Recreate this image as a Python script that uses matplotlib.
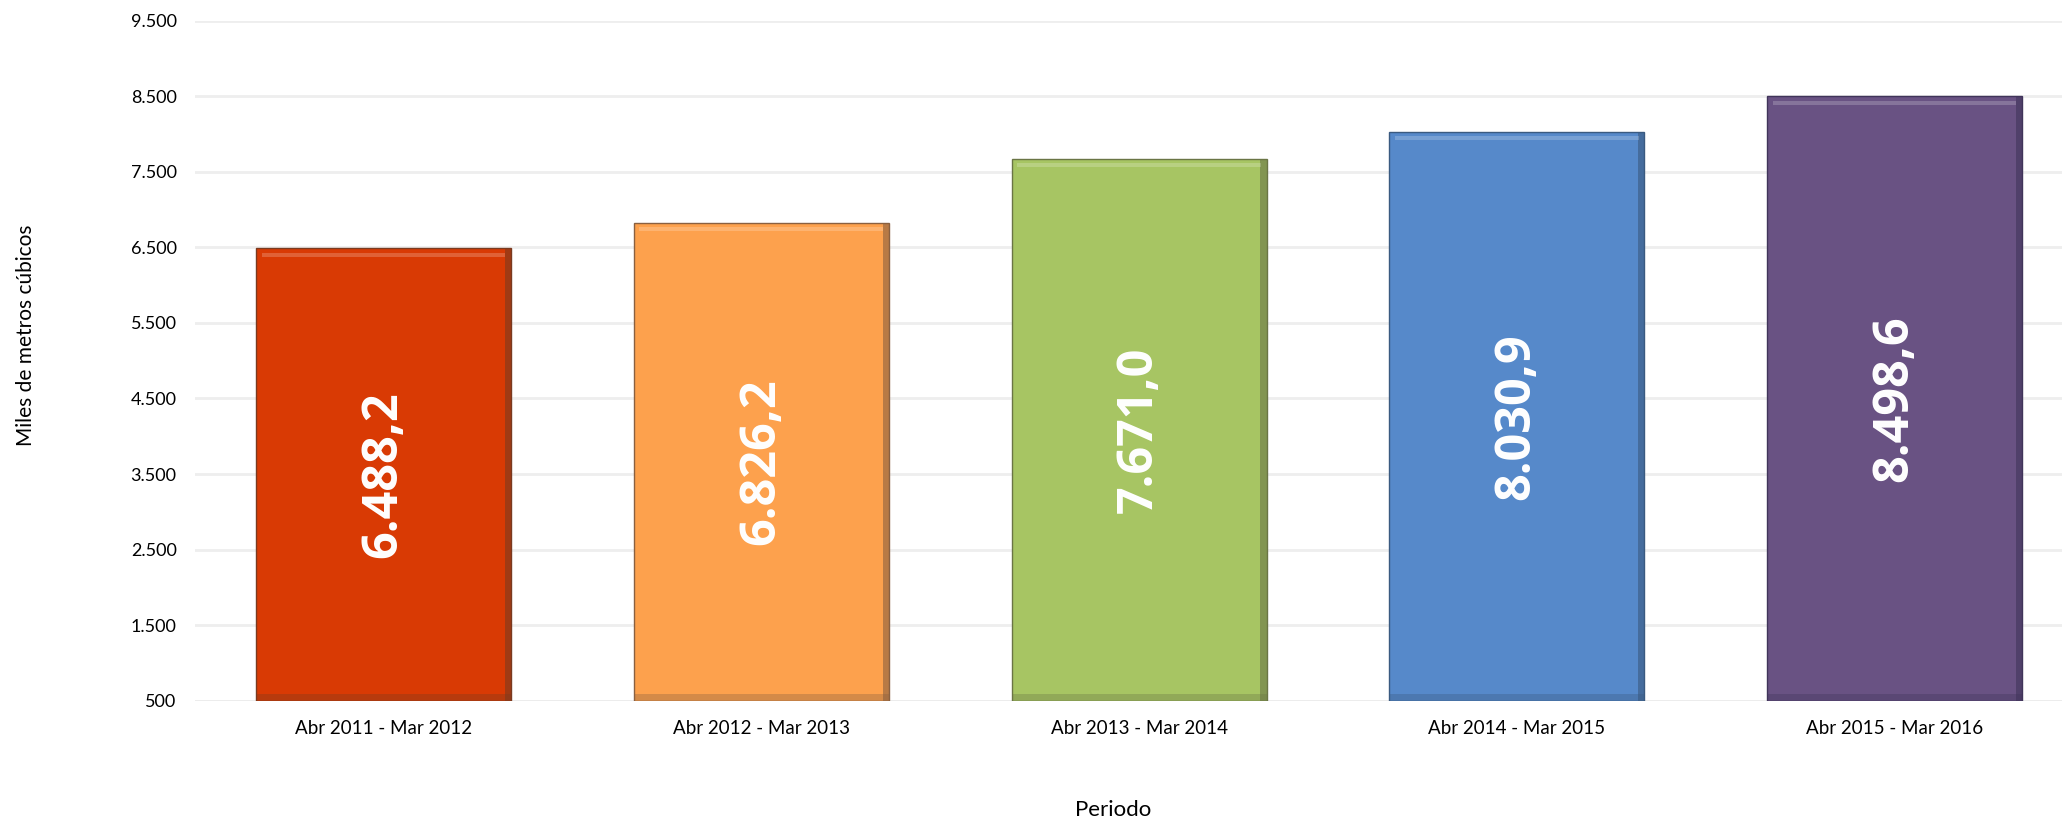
import matplotlib.pyplot as plt
import numpy as np

# Datos
periodos = ['Abr 2011 - Mar 2012', 'Abr 2012 - Mar 2013', 'Abr 2013 - Mar 2014',
            'Abr 2014 - Mar 2015', 'Abr 2015 - Mar 2016']
valores = [6488.2, 6826.2, 7671.0, 8030.9, 8498.6]
etiquetas = ['6.488,2', '6.826,2', '7.671,0', '8.030,9', '8.498,6']
yticks = [500, 1500, 2500, 3500, 4500, 5500, 6500, 7500, 8500, 9500]

colores = ['#D93A04', '#FDA14D', '#A7C563', '#5689CA', '#695283']
bordes = ['#7A3A20', '#8A6040', '#6A7545', '#3A5A80', '#40345A']

base = 500
x = np.arange(len(periodos))
ancho = 0.675

fig = plt.figure(figsize=(20.62, 8.22), dpi=100)
ax = fig.add_axes([0.0944, 0.1476, 0.916, 0.8272])

alturas = [v - base for v in valores]
ax.bar(x, alturas, ancho, bottom=base, color=colores, edgecolor=bordes,
       linewidth=1, zorder=3)

# efecto bisel sencillo: sombra a la derecha y abajo, brillo arriba
for i in range(len(x)):
    ax.bar(x[i] + ancho / 2 - 0.008, alturas[i], 0.016, bottom=base,
           color=bordes[i], alpha=0.6, zorder=4, linewidth=0)
    ax.bar(x[i], 90, ancho, bottom=base,
           color=bordes[i], alpha=0.35, zorder=4, linewidth=0)
    ax.bar(x[i], 50, ancho - 0.03, bottom=valores[i] - 110,
           color='white', alpha=0.2, zorder=4, linewidth=0)

for i in range(len(x)):
    ax.text(x[i], (base + valores[i]) / 2, etiquetas[i], rotation=90,
            ha='center', va='center', color='white', fontsize=35,
            fontweight='bold', family='Open Sans', zorder=5)

ax.set_xlim(-0.5, 4.5)
ax.set_ylim(500, 9500)
ax.set_yticks(yticks)
ax.set_yticklabels([f'{t:,}'.replace(',', '.') for t in yticks],
                   family='Lato', fontsize=13)
ax.set_xticks(x)
ax.set_xticklabels(periodos, family='Lato', fontsize=13.5)
ax.tick_params(axis='both', length=0, colors='#000000')
ax.tick_params(axis='y', pad=13)
ax.tick_params(axis='x', pad=14)

for s in ax.spines.values():
    s.set_visible(False)
ax.grid(axis='y', color='#EEEEEE', linewidth=2, zorder=0)
ax.axhline(500, color='#D9D9D9', linewidth=2, zorder=1)

fig.text(0.0126, 0.592, 'Miles de metros cúbicos', rotation=90, ha='center',
         va='center', family='Lato', fontsize=15)
fig.text(0.540, 0.0146, 'Periodo', ha='center', va='center',
         family='Lato', fontsize=16)

plt.savefig('out.png', dpi=100)
